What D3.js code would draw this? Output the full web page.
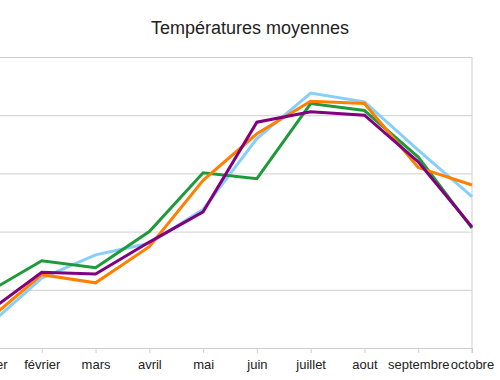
<!DOCTYPE html>
<html lang="fr">
<head>
<meta charset="utf-8">
<title>Températures moyennes</title>
<script src="https://cdn.jsdelivr.net/npm/d3@7"></script>
<style>
  body { margin: 0; background: #fff; }
  svg { font-family: "Liberation Sans", Arial, sans-serif; }
</style>
</head>
<body>
<script>
var w = 500, h = 380;

var mois = ["janvier", "février", "mars", "avril", "mai", "juin",
            "juillet", "aout", "septembre", "octobre"];
var yTicks = [0, 5, 10, 15, 20, 25];

var bleu   = [1.9, 6.0, 8.0, 9.0, 11.9, 18.0, 21.9, 21.15, 17.0, 13.0];
var vert   = [4.8, 7.5, 6.9, 10.0, 15.05, 14.55, 21.0, 20.4, 16.4, 10.3];
var orange = [2.4, 6.3, 5.6, 8.7, 14.4, 18.4, 21.2, 21.0, 15.5, 14.0];
var violet = [3.1, 6.5, 6.35, 9.1, 11.7, 19.4, 20.3, 20.0, 16.0, 10.4];

var series = [
  { values: bleu,   color: "#87cefa" },
  { values: vert,   color: "#1e9a3a" },
  { values: orange, color: "#ff8000" },
  { values: violet, color: "#800080" }
];

// the chart is shifted: left part falls outside the picture
var plotLeft = -12, plotRight = 472, plotTop = 57, plotBottom = 348;

var svg = d3.select("body").append("svg")
    .attr("width", w)
    .attr("height", h);

var x = d3.scalePoint().domain(mois).range([plotLeft, plotRight]);
var y = d3.scaleLinear().domain([0, 25]).range([plotBottom, plotTop]);

// horizontal grid
svg.append("g")
    .attr("transform", "translate(" + plotRight + ",0)")
    .call(d3.axisLeft(y).tickValues(yTicks).tickSize(plotRight + 60).tickFormat(""))
    .call(function(g) {
        g.select(".domain").remove();
        g.selectAll(".tick line").attr("stroke", "#cfcfcf");
    });

// right border
svg.append("line")
    .attr("x1", plotRight).attr("x2", plotRight)
    .attr("y1", plotTop).attr("y2", plotBottom + 5)
    .attr("stroke", "#cfcfcf");

// x axis
svg.append("g")
    .attr("transform", "translate(0," + plotBottom + ")")
    .call(d3.axisBottom(x).tickSize(5).tickPadding(7).tickSizeOuter(0))
    .call(function(g) {
        g.select(".domain").attr("stroke", "#cfcfcf");
        g.selectAll(".tick line").attr("stroke", "#cfcfcf");
        g.selectAll("text")
            .attr("font-size", "13px")
            .attr("fill", "#222")
            .attr("font-family", "Liberation Sans, Arial, sans-serif");
    });

var line = d3.line()
    .x(function(d, i) { return x(mois[i]); })
    .y(function(d) { return y(d); });

svg.selectAll("path.serie")
    .data(series)
    .enter()
    .append("path")
    .attr("class", "serie")
    .attr("d", function(s) { return line(s.values); })
    .attr("fill", "none")
    .attr("stroke", function(s) { return s.color; })
    .attr("stroke-width", 3);

svg.append("text")
    .attr("x", w / 2)
    .attr("y", 34)
    .attr("text-anchor", "middle")
    .attr("font-size", "18px")
    .attr("fill", "#222")
    .text("Températures moyennes");
</script>
</body>
</html>
